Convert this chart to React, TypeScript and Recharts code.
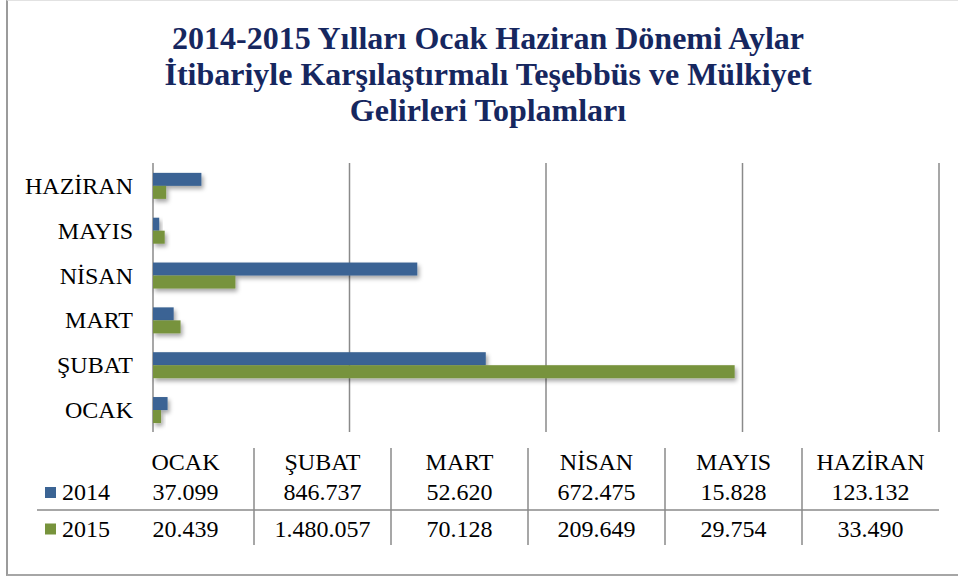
import React from 'react';
import { BarChart, Bar, XAxis, YAxis, CartesianGrid } from 'recharts';

const months = ['OCAK', 'ŞUBAT', 'MART', 'NİSAN', 'MAYIS', 'HAZİRAN'];
const values2014 = [37099, 846737, 52620, 672475, 15828, 123132];
const values2015 = [20439, 1480057, 70128, 209649, 29754, 33490];
const seriesNames = ['2014', '2015'];
const xTicks = [0, 500000, 1000000, 1500000, 2000000];

const COLORS = ['#3B6494', '#77933C'];
const SERIF = "'Liberation Serif', 'Times New Roman', serif";
const GRID = '#8a8a8a';

const titleLines = [
  '2014-2015 Yılları Ocak Haziran Dönemi Aylar',
  'İtibariyle Karşılaştırmalı Teşebbüs ve Mülkiyet',
  'Gelirleri Toplamları'
];

const chartData = months.map((m, i) => ({
  month: m,
  y2014: values2014[i],
  y2015: values2015[i]
}));

// 1.480.057 style
const fmt = (v: number) => String(v).replace(/\B(?=(\d{3})+(?!\d))/g, '.');

const ShadowBar = (props: any) => {
  const { x, y, width, height, fill } = props;
  if (!width || width <= 0) return null;
  return <rect x={x} y={y} width={width} height={height} fill={fill} filter="url(#barShadow)" />;
};

// data table below the plot
const COL_START = 117;
const COL_W = 137;
const rowBaselines = [500, 536.5];

function DataTable() {
  const rows = [values2014, values2015];
  return (
    <svg width={958} height={576} style={{ position: 'absolute', left: 0, top: 0, pointerEvents: 'none' }}>
      {months.map((m, i) => (
        <text key={m} x={COL_START + COL_W * i + COL_W / 2} y={470} textAnchor="middle"
          fontFamily={SERIF} fontSize={24} fill="#000">{m}</text>
      ))}
      {months.slice(1).map((m, i) => (
        <line key={`v-${m}`} x1={COL_START + COL_W * (i + 1)} x2={COL_START + COL_W * (i + 1)}
          y1={448} y2={545} stroke={GRID} strokeWidth={1.5} />
      ))}
      <line x1={37} x2={939} y1={510} y2={510} stroke={GRID} strokeWidth={1.5} />
      {rows.map((vals, r) => (
        <g key={seriesNames[r]}>
          <rect x={45} y={rowBaselines[r] - 13} width={11} height={11} fill={COLORS[r]} />
          <text x={62} y={rowBaselines[r]} fontFamily={SERIF} fontSize={24} fill="#000">{seriesNames[r]}</text>
          {vals.map((v, i) => (
            <text key={i} x={COL_START + COL_W * i + COL_W / 2} y={rowBaselines[r]} textAnchor="middle"
              fontFamily={SERIF} fontSize={24} fill="#000">{fmt(v)}</text>
          ))}
        </g>
      ))}
    </svg>
  );
}

export default function App() {
  return (
    <div style={{ position: 'absolute', left: 0, top: 0, width: 958, height: 576, overflow: 'hidden', background: '#fff' }}>
      <svg width={0} height={0} style={{ position: 'absolute' }}>
        <defs>
          <filter id="barShadow" x="-0.5" y="-1" width="2" height="3">
            <feDropShadow dx={2} dy={3} stdDeviation={2} floodColor="#000" floodOpacity={0.35} />
          </filter>
        </defs>
      </svg>
      <div style={{
        position: 'absolute', left: 6, top: 0, width: 952, height: 576, boxSizing: 'border-box',
        borderLeft: '2px solid #9b9b9b', borderBottom: '2px solid #a6a6a6', borderTop: '1px solid #e2e2e2'
      }} />
      <div style={{
        position: 'absolute', left: 18, top: 20, width: 940, textAlign: 'center',
        fontFamily: SERIF, fontWeight: 'bold', fontSize: 32, lineHeight: '36px', color: '#16275F'
      }}>
        {titleLines.map((t) => <div key={t}>{t}</div>)}
      </div>
      <div style={{ position: 'absolute', left: 0, top: 0 }}>
        <BarChart
          width={958}
          height={576}
          data={chartData}
          layout="vertical"
          margin={{ top: 163, right: 19, bottom: 144, left: 13 }}
          barCategoryGap="22%"
          barGap={0}
        >
          <CartesianGrid horizontal={false} stroke={GRID} strokeWidth={1.5} />
          <XAxis type="number" hide domain={[0, 2000000]} ticks={xTicks} />
          <YAxis
            type="category"
            dataKey="month"
            reversed
            width={140}
            axisLine={false}
            tickLine={false}
            tickMargin={14}
            tick={{ fill: '#000', fontSize: 24, fontFamily: SERIF }}
          />
          <Bar dataKey="y2014" name={seriesNames[0]} fill={COLORS[0]} shape={ShadowBar} isAnimationActive={false} />
          <Bar dataKey="y2015" name={seriesNames[1]} fill={COLORS[1]} shape={ShadowBar} isAnimationActive={false} />
        </BarChart>
      </div>
      <DataTable />
    </div>
  );
}
